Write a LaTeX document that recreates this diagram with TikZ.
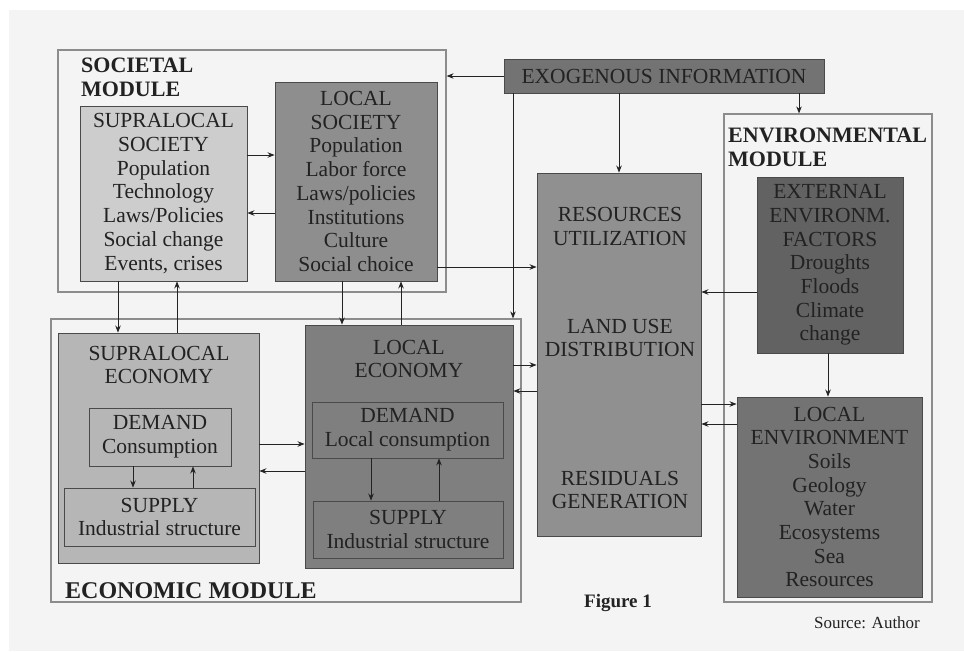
\documentclass[tikz,border=0pt]{standalone}
\usepackage{fontspec}
\setmainfont{Liberation Serif}
\usepackage{xcolor}
\usepackage{tikz}
\usetikzlibrary{positioning,arrows.meta}

\definecolor{paper}{HTML}{F4F4F4}
\definecolor{txt}{HTML}{222222}
\definecolor{modgray}{HTML}{8C8C8C}
\definecolor{boxline}{HTML}{4A4A4A}
\definecolor{supsocfill}{HTML}{CDCDCD}
\definecolor{locsocfill}{HTML}{8E8E8E}
\definecolor{exofill}{HTML}{737373}
\definecolor{resfill}{HTML}{909090}
\definecolor{extfill}{HTML}{626262}
\definecolor{locenvfill}{HTML}{737373}
\definecolor{supecofill}{HTML}{B6B6B6}
\definecolor{locecofill}{HTML}{7F7F7F}

\begin{document}
\begin{tikzpicture}[x=1pt,y=-1pt,
  every node/.style={text=txt,font=\fontsize{21.5}{23.7}\selectfont,align=center},
  module/.style={draw=modgray,line width=1.2pt,inner sep=0pt},
  box/.style={draw=boxline,line width=0.9pt,inner sep=0pt},
  arr/.style={draw=txt,line width=0.9pt,-{Stealth[length=7pt,width=5.5pt]}},
  lbl/.style={font=\fontsize{22}{24}\selectfont\bfseries,anchor=west,align=left,inner sep=0pt}]
\useasboundingbox (0,0) rectangle (964,651);
      \fill[white] (0,0) rectangle (964,651);
      \fill[paper] (9,10) rectangle (964,651);
% modules
      \node[module,minimum width=388pt,minimum height=242pt] (socmod) at (252,171) {};
      \node[module,minimum width=470pt,minimum height=283pt] (ecomod) at (286,460.5) {};
      \node[module,minimum width=208pt,minimum height=488pt] (envmod) at (828,358) {};
      \node[lbl] (soclbl) at (81,77.5) {SOCIETAL\\MODULE};
      \node[lbl] (envlbl) at (728,147.5) {ENVIRONMENTAL\\MODULE};
      \node[lbl,font=\fontsize{24}{26}\selectfont\bfseries] (ecolbl) at (65,591) {ECONOMIC MODULE};
% societal
      \node[box,fill=supsocfill,minimum width=167pt,minimum height=175pt] (supsoc) at (163.5,193.5)
        {SUPRALOCAL\\SOCIETY\\Population\\Technology\\Laws/Policies\\Social change\\Events, crises};
      \node[box,fill=locsocfill,minimum width=162pt,minimum height=199pt] (locsoc) at (356,181.5)
        {LOCAL\\SOCIETY\\Population\\Labor force\\Laws/policies\\Institutions\\Culture\\Social choice};
% exogenous + resources
      \node[box,fill=exofill,minimum width=320pt,minimum height=34pt] (exo) at (664,76) {EXOGENOUS INFORMATION};
      \node[box,fill=resfill,minimum width=164pt,minimum height=363pt] (res) at (619,354.5) {};
      \node (restop) at (620,226.5) {RESOURCES\\UTILIZATION};
      \node (resmid) at (620,338) {LAND USE\\DISTRIBUTION};
      \node (resbot) at (620,490) {RESIDUALS\\GENERATION};
% environmental
      \node[box,fill=extfill,minimum width=146pt,minimum height=176pt] (extenv) at (830,265)
        {EXTERNAL\\ENVIRONM.\\FACTORS\\Droughts\\Floods\\Climate\\change};
      \node[box,fill=locenvfill,minimum width=185pt,minimum height=200pt] (locenv) at (829.5,497)
        {LOCAL\\ENVIRONMENT\\Soils\\Geology\\Water\\Ecosystems\\Sea\\Resources};
% economic
      \node[box,fill=supecofill,minimum width=201pt,minimum height=230pt] (supeco) at (158.5,448) {};
      \node (supecotxt) at (159,365) {SUPRALOCAL\\ECONOMY};
      \node[box,fill=supecofill,minimum width=142pt,minimum height=58pt] (supdem) at (160,437) {DEMAND\\Consumption};
      \node[box,fill=supecofill,minimum width=191pt,minimum height=58pt] (supsup) at (159.5,517) {SUPPLY\\Industrial structure};
      \node[box,fill=locecofill,minimum width=208pt,minimum height=243pt] (loceco) at (409,446.5) {};
      \node (locecotxt) at (409,359) {LOCAL\\ECONOMY};
      \node[box,fill=locecofill,minimum width=191pt,minimum height=56pt] (locdem) at (407.5,430) {DEMAND\\Local consumption};
      \node[box,fill=locecofill,minimum width=190pt,minimum height=57pt] (locsup) at (408,529.5) {SUPPLY\\Industrial structure};
% captions
      \node[font=\fontsize{19}{21}\selectfont\bfseries] (figcap) at (618,603) {Figure 1};
      \node[font=\fontsize{17}{19}\selectfont] (source) at (867,623) {Source: Author};
% connectors
      \draw[arr] (supsoc.east |- 0,155) -- (locsoc.west |- 0,155);
      \draw[arr] (locsoc.west |- 0,213) -- (supsoc.east |- 0,213);
      \draw[arr] (exo.west) -- (socmod.east |- exo.west);
      \draw[arr] (exo.south -| 513,0) -- (ecomod.north -| 513,0);
      \draw[arr] (exo.south -| res.north) -- (res.north);
      \draw[arr] (exo.south -| 799,0) -- (envmod.north -| 799,0);
      \draw[arr] (locsoc.east |- 0,267) -- (res.west |- 0,267);
      \draw[arr] (extenv.west |- 0,292) -- (res.east |- 0,292);
      \draw[arr] (extenv.south -| 828,0) -- (locenv.north -| 828,0);
      \draw[arr] (res.east |- 0,404) -- (locenv.west |- 0,404);
      \draw[arr] (locenv.west |- 0,424) -- (res.east |- 0,424);
      \draw[arr] (supsoc.south -| 118,0) -- (supeco.north -| 118,0);
      \draw[arr] (supeco.north -| 177,0) -- (supsoc.south -| 177,0);
      \draw[arr] (locsoc.south -| 342,0) -- (loceco.north -| 342,0);
      \draw[arr] (loceco.north -| 401,0) -- (locsoc.south -| 401,0);
      \draw[arr] (supeco.east |- 0,444) -- (loceco.west |- 0,444);
      \draw[arr] (loceco.west |- 0,471) -- (supeco.east |- 0,471);
      \draw[arr] (loceco.east |- 0,365) -- (res.west |- 0,365);
      \draw[arr] (res.west |- 0,391) -- (loceco.east |- 0,391);
      \draw[arr] (supdem.south -| 133,0) -- (supsup.north -| 133,0);
      \draw[arr] (supsup.north -| 193,0) -- (supdem.south -| 193,0);
      \draw[arr] (locdem.south -| 371,0) -- (locsup.north -| 371,0);
      \draw[arr] (locsup.north -| 439,0) -- (locdem.south -| 439,0);
\end{tikzpicture}
\end{document}
